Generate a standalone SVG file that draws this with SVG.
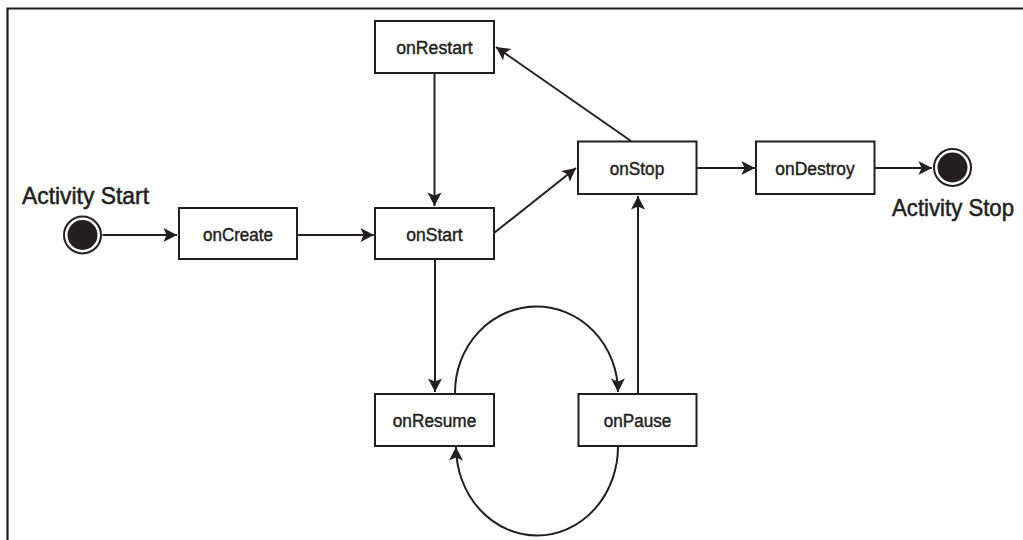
<svg xmlns="http://www.w3.org/2000/svg" width="1023" height="540" viewBox="0 0 1023 540">
<style>
.box{fill:#fff;stroke:#231f20;stroke-width:2}
.lbl{font-family:"Liberation Sans Narrow","Liberation Sans",Arial,sans-serif;font-size:18px;fill:#231f20;stroke:#231f20;stroke-width:0.45;text-anchor:middle}
.big{font-family:"Liberation Sans Narrow","Liberation Sans",Arial,sans-serif;font-size:24px;fill:#231f20;stroke:#231f20;stroke-width:0.55}
.edge{fill:none;stroke:#231f20;stroke-width:2;marker-end:url(#arr)}
</style>
<defs>
<marker id="arr" markerUnits="userSpaceOnUse" viewBox="-14 -8 15 16" refX="0" refY="0" markerWidth="15" markerHeight="16" orient="auto">
<path d="M0,0 L-13.5,-7 L-10.5,0 L-13.5,7 Z" fill="#231f20"/>
</marker>
</defs>
<rect width="1023" height="540" fill="#fff"/>
<path d="M7.5,540 V8.5 H1023" fill="none" stroke="#231f20" stroke-width="2.2"/>
<g id="connectors">
<path class="edge" d="M102.5,235 H177"/>
<path class="edge" d="M297,235 H374"/>
<path class="edge" d="M434.5,73 V206"/>
<path class="edge" d="M494,233 L576,168"/>
<path class="edge" d="M631,141 L496,47"/>
<path class="edge" d="M697,168 H755"/>
<path class="edge" d="M875,168 H932"/>
<path class="edge" d="M435,259 V392"/>
<path class="edge" d="M638,393 V196"/>
<path class="edge" d="M455,393 A81.5,86 0 0 1 618,392"/>
<path class="edge" d="M618,446 A81,89 0 0 1 456,447"/>
</g>
<g id="start">
<circle cx="82.5" cy="235" r="18.5" fill="#fff" stroke="#231f20" stroke-width="2"/>
<circle cx="82.5" cy="235" r="15" fill="#231f20"/>
<text class="big" x="22" y="204" textLength="127" lengthAdjust="spacingAndGlyphs">Activity Start</text>
</g>
<g id="onCreate">
<rect class="box" x="179" y="208" width="118" height="51"/>
<text class="lbl" x="238" y="241" textLength="70" lengthAdjust="spacingAndGlyphs">onCreate</text>
</g>
<g id="onRestart">
<rect class="box" x="375" y="21" width="119" height="52"/>
<text class="lbl" x="434.5" y="53.5" textLength="76.5" lengthAdjust="spacingAndGlyphs">onRestart</text>
</g>
<g id="onStart">
<rect class="box" x="375" y="208" width="119" height="51"/>
<text class="lbl" x="434.5" y="241" textLength="56.5" lengthAdjust="spacingAndGlyphs">onStart</text>
</g>
<g id="onStop">
<rect class="box" x="578" y="141.5" width="118.5" height="52.5"/>
<text class="lbl" x="637" y="175" textLength="54.5" lengthAdjust="spacingAndGlyphs">onStop</text>
</g>
<g id="onDestroy">
<rect class="box" x="756" y="141.5" width="118.5" height="52.5"/>
<text class="lbl" x="815" y="175" textLength="79.5" lengthAdjust="spacingAndGlyphs">onDestroy</text>
</g>
<g id="stop">
<circle cx="952.5" cy="167.5" r="18.5" fill="#fff" stroke="#231f20" stroke-width="2"/>
<circle cx="952.5" cy="167.5" r="15" fill="#231f20"/>
<text class="big" x="892" y="216" textLength="122" lengthAdjust="spacingAndGlyphs">Activity Stop</text>
</g>
<g id="onResume">
<rect class="box" x="375" y="394" width="119" height="52"/>
<text class="lbl" x="434.5" y="427" textLength="83.5" lengthAdjust="spacingAndGlyphs">onResume</text>
</g>
<g id="onPause">
<rect class="box" x="578.5" y="394" width="118" height="52"/>
<text class="lbl" x="637.5" y="427" textLength="67.5" lengthAdjust="spacingAndGlyphs">onPause</text>
</g>
</svg>
